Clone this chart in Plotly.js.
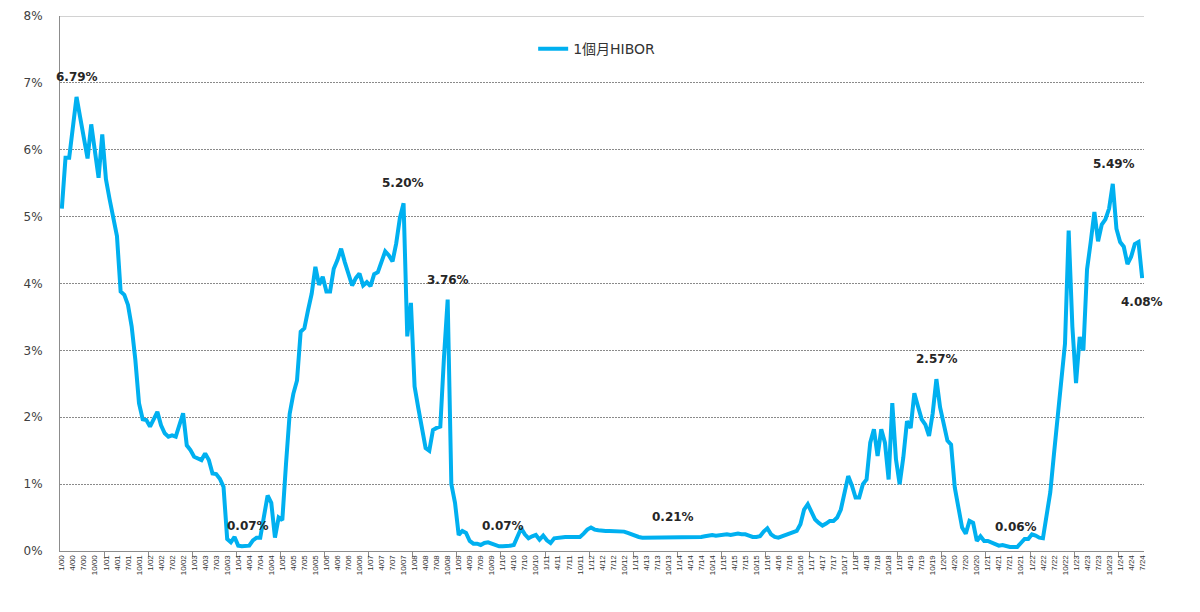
<!DOCTYPE html>
<html>
<head>
<meta charset="utf-8">
<script src="https://cdn.plot.ly/plotly-3.0.1.min.js"></script>
<style>
  html, body { margin: 0; padding: 0; background: #ffffff; }
  #chart { width: 1200px; height: 612px; }
</style>
</head>
<body>
<div id="chart"></div>
<script>
// One-month HIBOR, monthly readings (%), January 2000 to July 2024
const startYear = 2000;
const rates2000 = [5.12, 5.88, 5.88, 6.35, 6.79, 6.48, 6.16, 5.87, 6.38, 5.96, 5.58, 6.23];
const rates2001 = [5.56, 5.26, 5.01, 4.71, 3.88, 3.83, 3.68, 3.36, 2.86, 2.21, 1.97, 1.96];
const rates2002 = [1.86, 1.98, 2.08, 1.88, 1.76, 1.71, 1.73, 1.71, 1.91, 2.06, 1.58, 1.51];
const rates2003 = [1.41, 1.38, 1.36, 1.46, 1.36, 1.16, 1.15, 1.08, 0.96, 0.18, 0.13, 0.21];
const rates2004 = [0.08, 0.07, 0.07, 0.08, 0.16, 0.20, 0.20, 0.55, 0.83, 0.72, 0.20, 0.50];
const rates2005 = [0.46, 1.30, 2.05, 2.35, 2.55, 3.28, 3.33, 3.60, 3.85, 4.25, 3.98, 4.10];
const rates2006 = [3.88, 3.88, 4.22, 4.35, 4.52, 4.32, 4.12, 3.97, 4.08, 4.15, 3.97, 4.02];
const rates2007 = [3.96, 4.14, 4.17, 4.35, 4.48, 4.42, 4.33, 4.60, 4.98, 5.20, 3.21, 3.71];
const rates2008 = [2.46, 2.14, 1.86, 1.54, 1.50, 1.81, 1.84, 1.86, 2.90, 3.76, 1.00, 0.72];
const rates2009 = [0.24, 0.30, 0.27, 0.15, 0.11, 0.11, 0.09, 0.12, 0.13, 0.11, 0.08, 0.07];
const rates2010 = [0.07, 0.07, 0.08, 0.09, 0.20, 0.34, 0.25, 0.19, 0.22, 0.24, 0.17, 0.23];
const rates2011 = [0.16, 0.12, 0.19, 0.20, 0.20, 0.21, 0.21, 0.21, 0.21, 0.21, 0.26, 0.32];
const rates2012 = [0.35, 0.32, 0.31, 0.30, 0.30, 0.30, 0.30, 0.30, 0.30, 0.29, 0.27, 0.25];
const rates2013 = [0.22, 0.21, 0.20, 0.20, 0.20, 0.20, 0.20, 0.20, 0.20, 0.21, 0.21, 0.20];
const rates2014 = [0.20, 0.20, 0.20, 0.20, 0.20, 0.21, 0.21, 0.22, 0.23, 0.24, 0.23, 0.24];
const rates2015 = [0.25, 0.25, 0.24, 0.25, 0.26, 0.25, 0.25, 0.23, 0.21, 0.21, 0.22, 0.29];
const rates2016 = [0.34, 0.25, 0.21, 0.20, 0.22, 0.24, 0.26, 0.27, 0.30, 0.40, 0.62, 0.70];
const rates2017 = [0.57, 0.47, 0.42, 0.38, 0.41, 0.45, 0.45, 0.50, 0.62, 0.85, 1.12, 0.98];
const rates2018 = [0.80, 0.80, 1.00, 1.07, 1.62, 1.82, 1.42, 1.82, 1.62, 1.07, 2.21, 1.37];
const rates2019 = [1.00, 1.40, 1.94, 1.84, 2.36, 2.16, 1.97, 1.89, 1.72, 2.06, 2.57, 2.15];
const rates2020 = [1.90, 1.65, 1.59, 0.95, 0.65, 0.35, 0.26, 0.45, 0.42, 0.15, 0.22, 0.15];
const rates2021 = [0.15, 0.13, 0.10, 0.08, 0.09, 0.07, 0.06, 0.06, 0.06, 0.12, 0.18, 0.18];
const rates2022 = [0.25, 0.23, 0.20, 0.19, 0.50, 0.88, 1.45, 1.98, 2.45, 3.10, 4.79, 3.36];
const rates2023 = [2.51, 3.20, 3.00, 4.21, 4.62, 5.07, 4.63, 4.88, 4.96, 5.12, 5.49, 4.82];
const rates2024 = [4.62, 4.55, 4.29, 4.40, 4.59, 4.62, 4.08];

const seriesName = '1個月HIBOR';

// Months whose reading is written next to the line
const labelledMonths = [
  { month: '5/00',  side: 'above', xshift: 0 },
  { month: '3/04',  side: 'above', xshift: 2 },
  { month: '10/07', side: 'above', xshift: -1 },
  { month: '10/08', side: 'above', xshift: 0 },
  { month: '1/10',  side: 'above', xshift: 0 },
  { month: '11/13', side: 'above', xshift: 1 },
  { month: '11/19', side: 'above', xshift: 1 },
  { month: '8/21',  side: 'above', xshift: 2 },
  { month: '11/23', side: 'above', xshift: 1 },
  { month: '7/24',  side: 'below', xshift: 0 }
];

const yearly = [rates2000, rates2001, rates2002, rates2003, rates2004, rates2005, rates2006,
  rates2007, rates2008, rates2009, rates2010, rates2011, rates2012, rates2013, rates2014,
  rates2015, rates2016, rates2017, rates2018, rates2019, rates2020, rates2021, rates2022,
  rates2023, rates2024];

// Month labels in m/yy form, one per reading
const monthLabels = [];
const rates = [];
yearly.forEach((vals, k) => {
  const yy = String((startYear + k) % 100).padStart(2, '0');
  vals.forEach((v, m) => {
    monthLabels.push((m + 1) + '/' + yy);
    rates.push(v);
  });
});
const xIndex = monthLabels.map((_, i) => i);

// Quarterly tick labels, yearly tick marks between December and January
const quarterVals = xIndex.filter(i => i % 3 === 0);
const quarterText = quarterVals.map(i => monthLabels[i]);
const yearBoundaries = xIndex.filter(i => i % 12 === 11 && i < xIndex.length - 1).map(i => i + 0.5);

const annotations = labelledMonths.map(lm => {
  const i = monthLabels.indexOf(lm.month);
  return {
    x: i, y: rates[i], xref: 'x', yref: 'y',
    text: rates[i].toFixed(2) + '%',
    showarrow: false,
    xanchor: 'center', yanchor: 'middle',
    xshift: lm.xshift,
    yshift: lm.side === 'above' ? 20 : -24,
    font: { family: 'DejaVu Sans, Noto Sans CJK TC, sans-serif', size: 12, color: '#262626', weight: 'bold' }
  };
});

const trace = {
  type: 'scatter',
  mode: 'lines',
  name: seriesName,
  x: xIndex,
  y: rates,
  line: { color: '#00B0F0', width: 4 },
  hoverinfo: 'skip'
};

const layout = {
  width: 1200,
  height: 612,
  margin: { l: 60, r: 56, t: 16, b: 61 },
  paper_bgcolor: '#ffffff',
  plot_bgcolor: '#ffffff',
  font: { family: 'DejaVu Sans, Noto Sans CJK TC, sans-serif', color: '#404040' },
  showlegend: true,
  legend: {
    x: 0.4365, y: 0.938, xanchor: 'left', yanchor: 'middle',
    orientation: 'h',
    font: { family: 'DejaVu Sans, Noto Sans CJK TC, sans-serif', size: 14, color: '#333333' },
    bgcolor: 'rgba(0,0,0,0)'
  },
  xaxis: {
    range: [-0.5, xIndex.length - 0.5],
    tickmode: 'array',
    tickvals: quarterVals,
    ticktext: quarterText,
    tickangle: -90,
    ticks: '',
    tickfont: { family: 'Liberation Sans, Arial, sans-serif', size: 8, color: '#333333' },
    showgrid: false,
    zeroline: false,
    showline: true,
    linecolor: '#8c8c8c',
    linewidth: 1,
    minor: {
      tickmode: 'array',
      tickvals: yearBoundaries,
      ticks: 'outside',
      ticklen: 5,
      tickcolor: '#8c8c8c',
      tickwidth: 1,
      showgrid: false
    },
    fixedrange: true
  },
  yaxis: {
    range: [0, 8],
    tickmode: 'linear',
    tick0: 0,
    dtick: 1,
    ticksuffix: '%',
    ticks: '',
    ticklabelstandoff: 14,
    tickfont: { family: 'DejaVu Sans, sans-serif', size: 12, color: '#404040' },
    showgrid: true,
    gridcolor: '#8a8a8a',
    griddash: '2px,1px',
    gridwidth: 1,
    zeroline: false,
    showline: true,
    linecolor: '#8c8c8c',
    linewidth: 1,
    fixedrange: true
  },
  shapes: [
    { type: 'line', xref: 'paper', yref: 'y', x0: 0, x1: 1, y0: 8, y1: 8,
      line: { color: '#a6a6a6', width: 1 } }
  ],
  annotations: annotations
};

Plotly.newPlot('chart', [trace], layout, { displayModeBar: false, staticPlot: true });
</script>
</body>
</html>
